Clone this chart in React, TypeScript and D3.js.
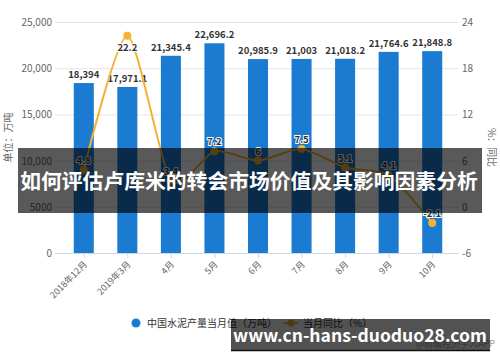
import React, { useEffect, useRef } from 'react';
import * as d3 from 'd3';

const categories = ["2018年12月", "2019年3月", "4月", "5月", "6月", "7月", "8月", "9月", "10月"];
const output = [18394, 17971.1, 21345.4, 22696.2, 20985.9, 21003, 21018.2, 21764.6, 21848.8];
const yoy = [4.8, 22.2, 3.4, 7.2, 6, 7.5, 5.1, 4.1, -2.1];
const leftTicks = [0, 5000, 10000, 15000, 20000, 25000];
const rightTicks = [-6, 0, 6, 12, 18, 24];

const FONT = '"Noto Sans CJK SC", "Noto Sans", sans-serif';

const App: React.FC = () => {
  const ref = useRef<SVGSVGElement | null>(null);

  useEffect(() => {
    if (!ref.current) return;
    const svg = d3.select(ref.current);
    svg.selectAll("*").remove();

    const width = 500;
    const height = 362;
    const margin = { top: 22, right: 46, bottom: 109, left: 62 };

    svg.attr("width", width).attr("height", height).style("font-family", FONT);

    svg.append("rect").attr("width", width).attr("height", height).attr("fill", "#fff");

    const x = d3.scaleBand()
      .domain(categories)
      .range([margin.left, width - margin.right])
      .paddingInner(0.54)
      .paddingOuter(0.27);

    const yL = d3.scaleLinear().domain([0, 25000]).range([height - margin.bottom, margin.top]);
    const yR = d3.scaleLinear().domain([-6, 24]).range([height - margin.bottom, margin.top]);

    // grid
    svg.append("g")
      .selectAll("line")
      .data(leftTicks)
      .enter()
      .append("line")
      .attr("x1", 55)
      .attr("x2", 458)
      .attr("y1", d => yL(d) + 0.5)
      .attr("y2", d => yL(d) + 0.5)
      .attr("stroke", d => d === 0 ? "#ccd6eb" : "#e6e6e6")
      .attr("stroke-width", 1);

    // left tick labels
    svg.append("g")
      .selectAll("text")
      .data(leftTicks)
      .enter()
      .append("text")
      .attr("x", 52)
      .attr("y", d => yL(d) + 4)
      .attr("text-anchor", "end")
      .attr("font-size", "10px")
      .attr("fill", "#666")
      .text(d => d >= 10000 ? d3.format(",")(d) : String(d));

    // right tick labels
    svg.append("g")
      .selectAll("text")
      .data(rightTicks)
      .enter()
      .append("text")
      .attr("x", 462)
      .attr("y", d => yR(d) + 4)
      .attr("text-anchor", "start")
      .attr("font-size", "10px")
      .attr("fill", "#666")
      .text(d => String(d));

    // axis titles
    svg.append("text")
      .attr("transform", `translate(12,${(margin.top + height - margin.bottom) / 2}) rotate(-90)`)
      .attr("text-anchor", "middle")
      .attr("font-size", "10px")
      .attr("fill", "#666")
      .text("单位：万吨");

    svg.append("text")
      .attr("transform", `translate(488,${(margin.top + height - margin.bottom) / 2 + 10}) rotate(90)`)
      .attr("text-anchor", "middle")
      .attr("font-size", "10px")
      .attr("fill", "#666")
      .text("%：同比");

    // x tick marks
    svg.append("g")
      .selectAll("line")
      .data(categories)
      .enter()
      .append("line")
      .attr("x1", d => (x(d) || 0) + x.bandwidth() / 2 + 0.5)
      .attr("x2", d => (x(d) || 0) + x.bandwidth() / 2 + 0.5)
      .attr("y1", yL(0))
      .attr("y2", yL(0) + 5)
      .attr("stroke", "#ccd6eb");

    // x labels
    svg.append("g")
      .selectAll("text")
      .data(categories)
      .enter()
      .append("text")
      .attr("transform", d => `translate(${(x(d) || 0) + x.bandwidth() / 2 + 4},${yL(0) + 12}) rotate(-45)`)
      .attr("text-anchor", "end")
      .attr("font-size", "9px")
      .attr("fill", "#666")
      .text(d => d);

    // bars
    svg.append("g")
      .selectAll("rect")
      .data(output)
      .enter()
      .append("rect")
      .attr("x", (d, i) => x(categories[i]) || 0)
      .attr("y", d => yL(d))
      .attr("width", x.bandwidth())
      .attr("height", d => yL(0) - yL(d))
      .attr("fill", "#1a7bd0");

    svg.append("g")
      .selectAll("text")
      .data(output)
      .enter()
      .append("text")
      .attr("x", (d, i) => (x(categories[i]) || 0) + x.bandwidth() / 2)
      .attr("y", d => yL(d) - 5)
      .attr("text-anchor", "middle")
      .attr("font-size", "9.5px")
      .attr("font-weight", "bold")
      .attr("fill", "#333")
      .text(d => d3.format(",")(d));

    // yoy line
    const pts = yoy.map((v, i) => [(x(categories[i]) || 0) + x.bandwidth() / 2, yR(v)] as [number, number]);
    const line = d3.line().curve(d3.curveCardinal.tension(0.3));
    svg.append("path")
      .attr("d", line(pts))
      .attr("fill", "none")
      .attr("stroke", "#f2b334")
      .attr("stroke-width", 2);

    svg.append("g")
      .selectAll("circle")
      .data(pts)
      .enter()
      .append("circle")
      .attr("cx", d => d[0])
      .attr("cy", d => d[1])
      .attr("r", 4)
      .attr("fill", "#f2b334");

    svg.append("g")
      .selectAll("text")
      .data(yoy)
      .enter()
      .append("text")
      .attr("x", (d, i) => pts[i][0])
      .attr("y", (d, i) => pts[i][1] < 45 ? pts[i][1] + 15 : pts[i][1] - 6)
      .attr("text-anchor", "middle")
      .attr("font-size", "9.5px")
      .attr("font-weight", "bold")
      .attr("fill", "#333")
      .attr("stroke", "#fff")
      .attr("stroke-width", 2)
      .attr("paint-order", "stroke")
      .text(d => String(d));

    // legend
    const lg = svg.append("g").attr("font-size", "10px").attr("fill", "#333");
    lg.append("circle").attr("cx", 136).attr("cy", 323).attr("r", 4.5).attr("fill", "#1a7bd0");
    lg.append("text").attr("x", 147).attr("y", 327).attr("fill", "#333").text("中国水泥产量当月值（万吨）");
    lg.append("line").attr("x1", 284).attr("x2", 298).attr("y1", 323).attr("y2", 323)
      .attr("stroke", "#f2b334").attr("stroke-width", 2);
    lg.append("circle").attr("cx", 291).attr("cy", 323).attr("r", 3.5).attr("fill", "#f2b334");
    lg.append("text").attr("x", 303).attr("y", 327).attr("fill", "#333").text("当月同比（%）");

    // source
    svg.append("text")
      .attr("x", 495)
      .attr("y", 347)
      .attr("text-anchor", "end")
      .attr("font-size", "9px")
      .attr("fill", "#999")
      .text("@前瞻经济学人APP");

    // overlay title band
    svg.append("rect")
      .attr("x", 18).attr("y", 148).attr("width", 464).attr("height", 65)
      .attr("fill", "rgba(0,0,0,0.65)");
    svg.append("text")
      .attr("x", 249).attr("y", 189)
      .attr("text-anchor", "middle")
      .attr("font-size", "20.8px")
      .attr("font-weight", "bold")
      .attr("fill", "#fff")
      .text("如何评估卢库米的转会市场价值及其影响因素分析");

    // overlay url band
    svg.append("rect")
      .attr("x", 231).attr("y", 319).attr("width", 259).attr("height", 32)
      .attr("fill", "rgba(0,0,0,0.68)");
    svg.append("line")
      .attr("x1", 231).attr("x2", 490).attr("y1", 350.5).attr("y2", 350.5)
      .attr("stroke", "#111").attr("stroke-width", 1.5);
    svg.append("text")
      .attr("x", 360).attr("y", 342)
      .attr("text-anchor", "middle")
      .attr("font-size", "17.5px")
      .attr("font-weight", "bold")
      .attr("fill", "#fff")
      .text("www.cn-hans-duoduo28.com");
  }, []);

  return <svg ref={ref} style={{ position: "absolute", left: 0, top: 0 }}></svg>;
};

export default App;
